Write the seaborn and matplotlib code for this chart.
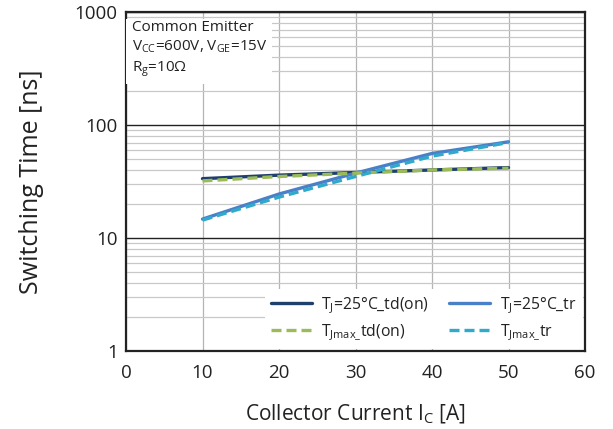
import matplotlib
matplotlib.use("Agg")
import matplotlib.pyplot as plt
import seaborn as sns
import pandas as pd
from matplotlib.ticker import LogLocator, NullFormatter

sns.set_theme(style="white")
plt.rcParams['font.family'] = ['Open Sans', 'DejaVu Sans']
plt.rcParams['mathtext.fontset'] = 'custom'
plt.rcParams['mathtext.rm'] = 'Open Sans'
plt.rcParams['mathtext.it'] = 'Open Sans'

current = [10, 20, 30, 40, 50]
td_on_25 = [33.5, 36.0, 38.0, 40.0, 42.0]
tr_25 = [14.7, 24.5, 37.5, 56.0, 71.0]
td_on_tjmax = [32.0, 35.0, 37.5, 40.0, 41.5]
tr_tjmax = [14.4, 23.0, 35.0, 53.0, 70.0]

labels = [r"T$_\mathregular{J}$=25°C_td(on)", r"T$_\mathregular{J}$=25°C_tr",
          r"T$_\mathregular{Jmax\_}$td(on)", r"T$_\mathregular{Jmax\_}$tr"]
series = [td_on_25, tr_25, td_on_tjmax, tr_tjmax]
colors = ["#1f3f6e", "#4a80c8", "#9bbb59", "#2fa9cc"]
styles = ["-", "-", (0, (3, 1.5)), (0, (3, 1.5))]

fig = plt.figure(figsize=(6.13, 4.29), dpi=100)
ax = fig.add_axes([126/613, 1-351/429, 459/613, 339/429])

for lab, vals, c, ls in zip(labels, series, colors, styles):
    df = pd.DataFrame({"x": current, "y": vals})
    sns.lineplot(data=df, x="x", y="y", ax=ax, color=c, lw=2.4, label=lab, linestyle=ls)

ax.set_yscale("log")
ax.set_xlim(0, 60)
ax.set_ylim(1, 1000)
ax.set_xticks([0, 10, 20, 30, 40, 50, 60])
ax.set_yticks([1, 10, 100, 1000])
ax.set_yticklabels(["1", "10", "100", "1000"])
ax.yaxis.set_minor_locator(LogLocator(base=10, subs=range(2, 10)))
ax.yaxis.set_minor_formatter(NullFormatter())
ax.grid(True, which="minor", axis="y", color="#c8c8c8", lw=0.9)
ax.grid(True, which="major", axis="y", color="#222222", lw=1.0)
ax.grid(True, which="major", axis="x", color="#b4b4b4", lw=0.9)
ax.set_axisbelow(True)
for s in ax.spines.values():
    s.set_color("#222222")
    s.set_linewidth(1.6)
ax.tick_params(axis="both", which="both", length=0, labelsize=13.5, colors="#222222")
ax.tick_params(axis="x", pad=9)
ax.tick_params(axis="y", pad=6)

ax.set_xlabel(r"Collector Current I$_\mathregular{C}$ [A]", fontsize=15, color="#222222", labelpad=15)
ax.set_ylabel("Switching Time [ns]", fontsize=18, color="#222222", labelpad=22)

ax.text(0.012, 0.975,
        "Common Emitter\n" + r"V$_\mathregular{CC}$=600V, V$_\mathregular{GE}$=15V" + "\n" + r"R$_\mathregular{g}$=10Ω",
        transform=ax.transAxes, va="top", ha="left", fontsize=11, color="#222222", linespacing=1.3,
        bbox=dict(boxstyle="square,pad=0.35", facecolor="white", edgecolor="none"), zorder=5)

handles, labs = ax.get_legend_handles_labels()
order = [0, 2, 1, 3]
leg = ax.legend([handles[i] for i in order], [labs[i] for i in order],
                loc="lower right", ncol=2, frameon=True, fontsize=11.3, handlelength=2.6,
                columnspacing=1.3, borderaxespad=0.15, labelspacing=0.5, handletextpad=0.6)
leg.get_frame().set_facecolor("white")
leg.get_frame().set_edgecolor("none")
leg.get_frame().set_alpha(1)
for t in leg.get_texts():
    t.set_color("#222222")

fig.savefig("out.png", dpi=100)
